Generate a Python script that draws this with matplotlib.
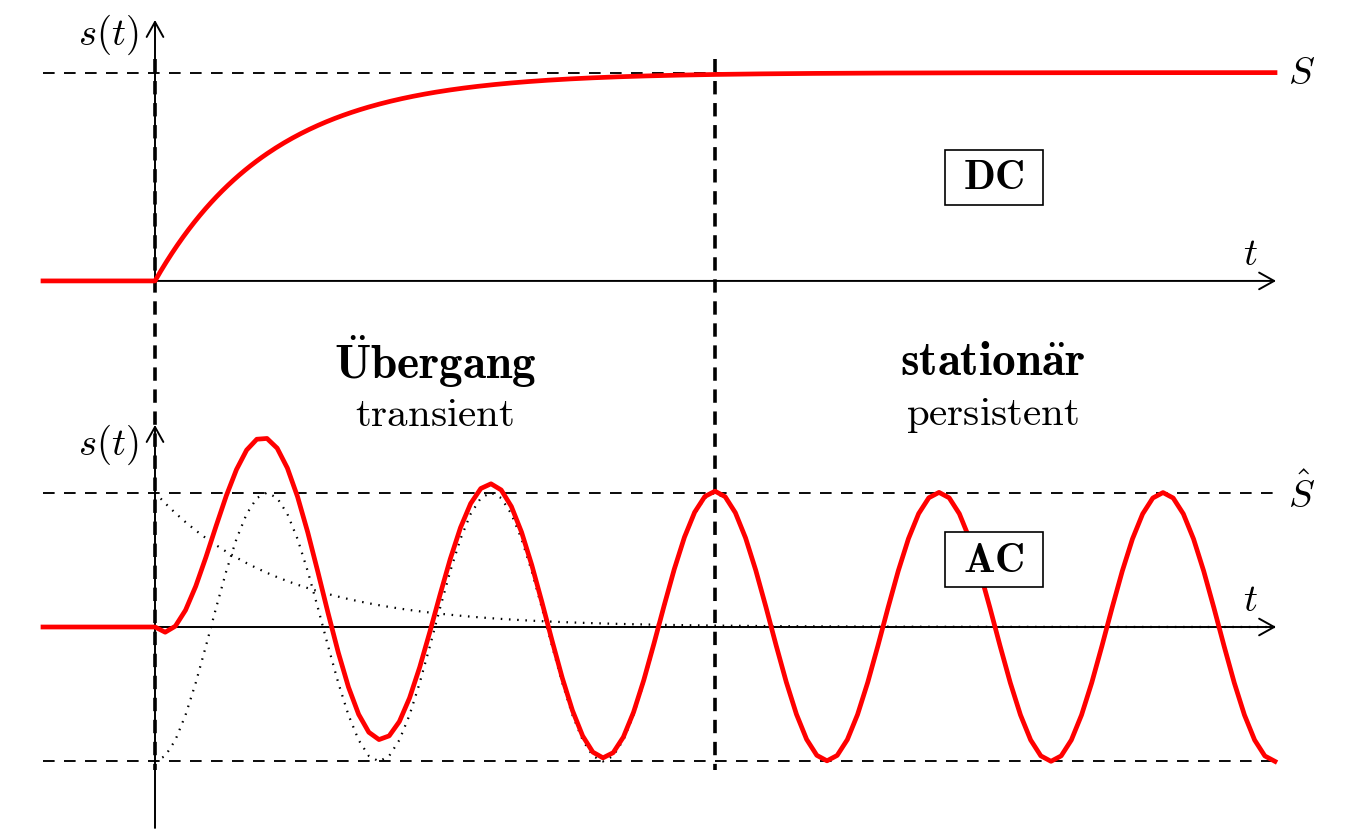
import numpy as np
import matplotlib
matplotlib.use("Agg")
import matplotlib.pyplot as plt
from matplotlib.patches import Rectangle

plt.rcParams['mathtext.fontset'] = 'cm'

# ---- values (time in units of one AC period) ----
t_start = -0.5        # curves start before the switch-on
t_end = 5.0           # end of time axis
t_switch = 2.5        # boundary transient / stationary
S = 0.93              # DC final value
S_hat = 0.60          # AC amplitude
period = 1.0          # AC period
tau_dc = 0.53         # DC time constant
tau_ac = 0.55         # AC transient time constant
base_dc = 1.545       # vertical offset of DC diagram
base_ac = 0.0         # vertical offset of AC diagram

labels = {
    'title_left': r'$\mathbf{\ddot{U}bergang}$',
    'sub_left': r'$\mathrm{transient}$',
    'title_right': r'$\mathbf{station\ddot{a}r}$',
    'sub_right': r'$\mathrm{persistent}$',
    'dc': r'$\mathbf{DC}$',
    'ac': r'$\mathbf{AC}$',
}

# ---- figure ----
fig = plt.figure(figsize=(13.56, 8.32), dpi=100)
ax = fig.add_axes([0, 0, 1, 1])
px = 224.0
ax.set_xlim(-155 / px, (1356 - 155) / px)
ax.set_ylim(-(832 - 627) / px, 627 / px)
ax.axis('off')

red = '#ff0000'

# dashed helper lines
hd = dict(color='black', lw=1.35, dashes=(6.2, 5.0), zorder=2)
ax.plot([t_start, t_end], [base_dc + S] * 2, **hd)
ax.plot([t_start, t_end], [base_ac + S_hat] * 2, **hd)
ax.plot([t_start, t_end], [base_ac - S_hat] * 2, **hd)

vd = dict(color='black', lw=2.6, dashes=(3.7, 2.4), zorder=3)
ax.plot([0, 0], [base_dc + S + 0.06, base_ac - S_hat - 0.04], **vd)
ax.plot([t_switch, t_switch], [base_dc + S + 0.06, base_ac - S_hat - 0.04], **vd)

# axes with arrows
arr = dict(arrowstyle='->,head_length=0.45,head_width=0.25', color='black', lw=1.4,
           mutation_scale=24, shrinkA=0, shrinkB=0)
ax.annotate('', xy=(t_end + 0.005, base_dc), xytext=(0, base_dc), arrowprops=arr, zorder=4)
ax.annotate('', xy=(0, 2.71), xytext=(0, base_dc - 0.02), arrowprops=arr, zorder=4)
ax.annotate('', xy=(t_end + 0.005, base_ac), xytext=(0, base_ac), arrowprops=arr, zorder=4)
ax.annotate('', xy=(0, 0.902), xytext=(0, -0.897), arrowprops=arr, zorder=4)

# DC curve
t1 = np.linspace(0, t_end, 400)
ax.plot(np.r_[t_start, 0, t1], base_dc + np.r_[0, 0, S * (1 - np.exp(-t1 / tau_dc))],
        color=red, lw=3.4, zorder=5, solid_joinstyle='round')

# AC curve and its components
t2 = np.linspace(0, t_end, 111)
steady = -S_hat * np.cos(2 * np.pi * t2 / period)
trans = S_hat * np.exp(-t2 / tau_ac)
ax.plot(t2, base_ac + steady, color='black', lw=1.6, dashes=(0.7, 3.0), zorder=3)
ax.plot(t2, base_ac + trans, color='black', lw=1.6, dashes=(0.7, 3.0), zorder=3)
ax.plot(np.r_[t_start, t2], base_ac + np.r_[0, steady + trans],
        color=red, lw=3.4, zorder=5, solid_joinstyle='round')

# labels
fs_m = 28
ax.text(-0.21, 2.645, r'$s(t)$', fontsize=fs_m, ha='center', va='center')
ax.text(-0.21, 0.815, r'$s(t)$', fontsize=fs_m, ha='center', va='center')
ax.text(5.12, base_dc + S, r'$S$', fontsize=fs_m, ha='center', va='center')
ax.text(5.12, base_ac + S_hat - 0.01, r'$\hat{S}$', fontsize=fs_m, ha='center', va='center')
ax.text(4.89, base_dc + 0.12, r'$t$', fontsize=fs_m, ha='center', va='center')
ax.text(4.89, base_ac + 0.12, r'$t$', fontsize=fs_m, ha='center', va='center')

ax.text(1.25, 1.183, labels['title_left'], fontsize=34, ha='center', va='center')
ax.text(1.25, 0.946, labels['sub_left'], fontsize=29.5, ha='center', va='center')
ax.text(3.74, 1.183, labels['title_right'], fontsize=34, ha='center', va='center')
ax.text(3.74, 0.946, labels['sub_right'], fontsize=29.5, ha='center', va='center')

# boxed labels
bw, bh = 0.4375, 0.2455
for cx, cy, key in [(3.745, 2.007, 'dc'), (3.745, 0.301, 'ac')]:
    ax.add_patch(Rectangle((cx - bw / 2, cy - bh / 2), bw, bh, fc='white', ec='black',
                           lw=1.2, zorder=6))
    ax.text(cx, cy, labels[key], fontsize=30, ha='center', va='center', zorder=7)

fig.savefig('out.png', dpi=100)
